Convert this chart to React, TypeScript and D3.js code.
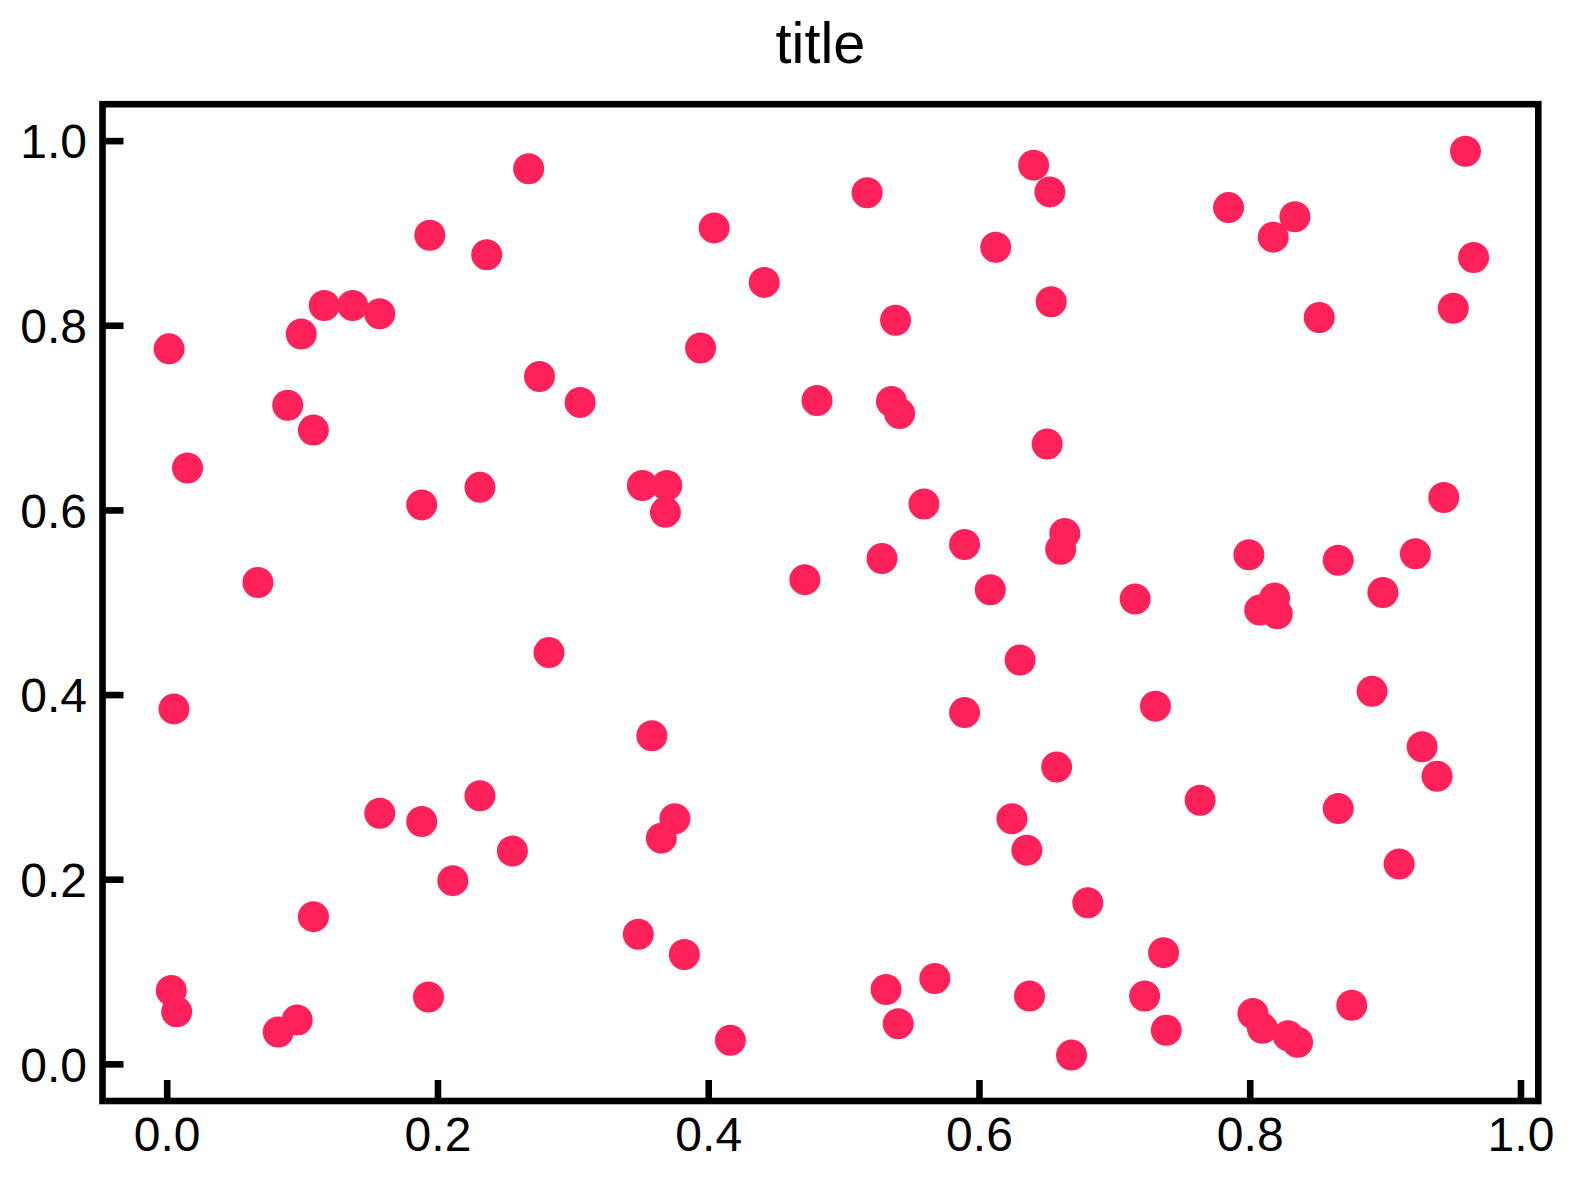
import { useEffect, useRef } from 'react';
import * as d3 from 'd3';

// scatter points
const xs = [
  0.0014, 0.015, 0.005, 0.003, 0.007, 0.067, 0.089, 0.099, 0.108, 0.116,
  0.137, 0.157, 0.108, 0.082, 0.096, 0.157, 0.188, 0.194, 0.188, 0.193,
  0.211, 0.231, 0.236, 0.231, 0.255, 0.267, 0.275, 0.282, 0.305, 0.348,
  0.351, 0.369, 0.368, 0.358, 0.365, 0.375, 0.382, 0.394, 0.404, 0.416,
  0.441, 0.471, 0.480, 0.517, 0.528, 0.531, 0.538, 0.535, 0.541, 0.540,
  0.559, 0.567, 0.589, 0.589, 0.608, 0.612, 0.624, 0.630, 0.635, 0.637,
  0.640, 0.652, 0.653, 0.650, 0.663, 0.660, 0.657, 0.668, 0.680, 0.715,
  0.722, 0.730, 0.736, 0.738, 0.763, 0.784, 0.799, 0.807, 0.802, 0.809,
  0.817, 0.833, 0.818, 0.820, 0.828, 0.835, 0.851, 0.865, 0.865, 0.875,
  0.890, 0.898, 0.910, 0.922, 0.927, 0.938, 0.943, 0.950, 0.959, 0.965,
];
const ys = [
  0.775, 0.646, 0.385, 0.080, 0.057, 0.522, 0.714, 0.791, 0.687, 0.822,
  0.822, 0.813, 0.160, 0.035, 0.048, 0.272, 0.606, 0.898, 0.263, 0.073,
  0.199, 0.625, 0.877, 0.291, 0.231, 0.970, 0.745, 0.446, 0.717, 0.141,
  0.627, 0.627, 0.598, 0.356, 0.245, 0.266, 0.119, 0.776, 0.906, 0.026,
  0.847, 0.525, 0.719, 0.944, 0.548, 0.081, 0.806, 0.718, 0.705, 0.044,
  0.607, 0.093, 0.563, 0.381, 0.514, 0.885, 0.266, 0.438, 0.232, 0.074,
  0.974, 0.945, 0.826, 0.672, 0.575, 0.558, 0.322, 0.010, 0.175, 0.504,
  0.074, 0.388, 0.121, 0.037, 0.286, 0.928, 0.552, 0.492, 0.055, 0.039,
  0.896, 0.918, 0.505, 0.488, 0.031, 0.024, 0.809, 0.546, 0.277, 0.064,
  0.404, 0.511, 0.217, 0.553, 0.344, 0.312, 0.614, 0.819, 0.989, 0.874,
];
const xTicks = [0, 0.2, 0.4, 0.6, 0.8, 1.0];
const yTicks = [0, 0.2, 0.4, 0.6, 0.8, 1.0];
const xLim = [-0.0478, 1.0128];
const yLim = [-0.0397, 1.04];
const titleText = 'title';

export default function App() {
  const ref = useRef<SVGSVGElement>(null);
  useEffect(() => {
    if (!ref.current) return;
    const svg = d3.select(ref.current);
    svg.selectAll('*').remove();
    const W = 1574, H = 1181;
    const margin = { left: 102.5, right: W - 1538.3, top: 104.2, bottom: H - 1101 };
    const x = d3.scaleLinear().domain(xLim).range([margin.left, W - margin.right]);
    const y = d3.scaleLinear().domain(yLim).range([H - margin.bottom, margin.top]);
    const font = '"Liberation Sans", Arial, sans-serif';
    const fmt = d3.format('.1f');
    const tickLen = 21, lw = 6.6;

    svg.append('rect').attr('width', W).attr('height', H).attr('fill', 'white');

    const pts = xs.map((v, i) => ({ x: v, y: ys[i] }));
    svg.append('g').selectAll('circle').data(pts).enter().append('circle')
      .attr('cx', d => x(d.x)).attr('cy', d => y(d.y)).attr('r', 15.5)
      .attr('fill', '#ff225a');

    // inward ticks
    const bottom = H - margin.bottom, left = margin.left;
    svg.append('g').selectAll('line').data(xTicks).enter().append('line')
      .attr('x1', d => x(d)).attr('x2', d => x(d)).attr('y1', bottom).attr('y2', bottom - tickLen)
      .attr('stroke', 'black').attr('stroke-width', lw);
    svg.append('g').selectAll('line').data(yTicks).enter().append('line')
      .attr('y1', d => y(d)).attr('y2', d => y(d)).attr('x1', left).attr('x2', left + tickLen)
      .attr('stroke', 'black').attr('stroke-width', lw);

    svg.append('rect')
      .attr('x', margin.left).attr('y', margin.top)
      .attr('width', W - margin.right - margin.left).attr('height', H - margin.bottom - margin.top)
      .attr('fill', 'none').attr('stroke', 'black').attr('stroke-width', lw);

    svg.append('g').selectAll('text').data(xTicks).enter().append('text')
      .attr('x', d => x(d)).attr('y', 1151).attr('text-anchor', 'middle')
      .style('font-family', font).style('font-size', '48px').text(d => fmt(d));
    svg.append('g').selectAll('text').data(yTicks).enter().append('text')
      .attr('x', 87).attr('y', d => y(d)).attr('dy', '0.36em').attr('text-anchor', 'end')
      .style('font-family', font).style('font-size', '48px').text(d => fmt(d));

    svg.append('text').attr('x', (margin.left + W - margin.right) / 2).attr('y', 62.7)
      .attr('text-anchor', 'middle').style('font-family', font).style('font-size', '57.6px')
      .text(titleText);
  }, []);
  return (
    <svg ref={ref} width={1574} height={1181}
      style={{ position: 'absolute', left: 0, top: 0, display: 'block' }} />
  );
}
